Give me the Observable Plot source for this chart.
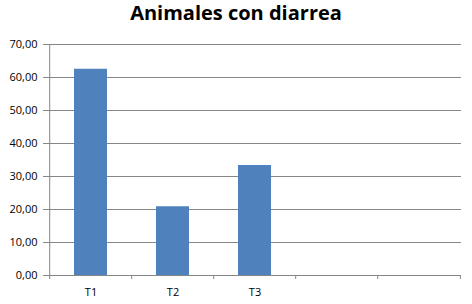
<!DOCTYPE html>
<html>
<head>
<meta charset="utf-8">
<script src="https://cdn.jsdelivr.net/npm/d3@7"></script>
<script src="https://cdn.jsdelivr.net/npm/@observablehq/plot@0.6"></script>
<style>
  html, body { margin: 0; padding: 0; background: #fff; }
  #title { height: 30px; width: 472px; text-align: center; font-family: "Open Sans", sans-serif; font-weight: bold; font-size: 20px; line-height: 26px; color: #000; overflow: hidden; }
</style>
</head>
<body>
<div id="title">Animales con diarrea</div>
<div id="chart"></div>
<script>
const categories = ["T1", "T2", "T3"];
const values = [62.5, 20.83, 33.33];
const slots = ["T1", "T2", "T3", "s4", "s5"];
const yTicks = [0, 10, 20, 30, 40, 50, 60, 70];

const data = categories.map((c, i) => ({cat: c, value: values[i]}));
const W = 472, H = 274, ML = 48, MR = 11, MT = 14, MB = 29;
const bw = (W - ML - MR) / slots.length;
const fmt = d => d.toFixed(2).replace(".", ",");
const gray = "#868686";

const chart = Plot.plot({
  width: W, height: H,
  marginLeft: ML, marginRight: MR, marginTop: MT, marginBottom: MB,
  style: {fontFamily: "Open Sans, sans-serif", fontSize: "11px", color: "#000", background: "#fff"},
  x: {domain: slots, paddingInner: 0.6, paddingOuter: 0.3, label: null},
  y: {domain: [0, 70], label: null},
  marks: [
    Plot.ruleY(yTicks, {stroke: gray, strokeWidth: 1}),
    Plot.ruleX([0], {x: () => slots[0], dx: -bw / 2, stroke: gray, y1: 0, y2: 70, strokeOpacity: 1}),
    Plot.barY(data, {x: "cat", y: "value", fill: "#4F81BD"}),
    Plot.axisY({ticks: yTicks, tickFormat: fmt, tickSize: 5, tickPadding: 6, stroke: gray, strokeOpacity: 1, color: "#000"}),
    Plot.axisX({tickSize: 0, tickPadding: 13, tickFormat: d => categories.includes(d) ? d : ""}),
    Plot.axisX({ticks: slots, tickSize: 4, dx: -bw / 2, tickFormat: () => "", stroke: gray, strokeOpacity: 1}),
    Plot.axisX({ticks: [slots[slots.length - 1]], tickSize: 4, dx: bw / 2, tickFormat: () => "", stroke: gray, strokeOpacity: 1})
  ]
});
document.getElementById("chart").appendChild(chart);
</script>
</body>
</html>
